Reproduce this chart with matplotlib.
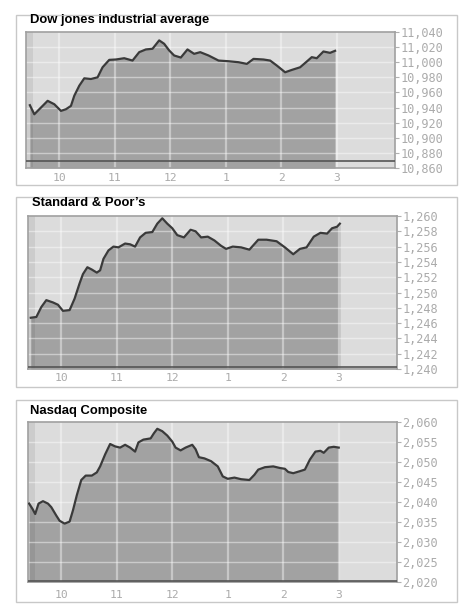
import matplotlib
matplotlib.use("Agg")
import matplotlib.pyplot as plt
from matplotlib.patches import Rectangle

# --- data (hour of the trading day, index level) ---
dow_hours = [9.47, 9.55, 9.64, 9.79, 9.91, 10.03, 10.12, 10.21, 10.27, 10.36, 10.45, 10.57,
             10.69, 10.78, 10.90, 11.02, 11.17, 11.32, 11.44, 11.56, 11.68, 11.80, 11.89,
             11.98, 12.07, 12.19, 12.31, 12.43, 12.54, 12.69, 12.87, 13.05, 13.23, 13.38,
             13.50, 13.68, 13.80, 13.92, 14.07, 14.19, 14.34, 14.46, 14.55, 14.64, 14.76,
             14.88, 14.97]
dow_vals = [10943.1, 10931.1, 10937.8, 10948.9, 10944.4, 10935.6, 10937.8, 10942.2, 10955.6,
            10968.9, 10978.7, 10977.8, 10980.0, 10993.3, 11003.1, 11003.6, 11005.3, 11002.2,
            11013.3, 11016.9, 11017.8, 11028.9, 11024.4, 11015.6, 11008.9, 11006.2, 11016.9,
            11011.1, 11013.3, 11008.9, 11002.2, 11001.3, 11000.0, 10997.8, 11004.4, 11003.6,
            11002.2, 10995.6, 10986.7, 10989.8, 10993.3, 11000.9, 11006.7, 11005.3, 11014.2,
            11012.4, 11015.1]

sp_hours = [9.45, 9.55, 9.64, 9.73, 9.85, 9.94, 10.03, 10.15, 10.24, 10.33, 10.39, 10.47,
            10.55, 10.64, 10.70, 10.76, 10.85, 10.94, 11.03, 11.15, 11.24, 11.33, 11.42,
            11.52, 11.64, 11.73, 11.82, 11.91, 12.00, 12.09, 12.21, 12.33, 12.42, 12.52,
            12.64, 12.76, 12.88, 12.97, 13.09, 13.24, 13.39, 13.55, 13.70, 13.88, 14.03,
            14.18, 14.30, 14.42, 14.55, 14.67, 14.79, 14.88, 14.97, 15.02]
sp_vals = [1246.7, 1246.8, 1248.1, 1249.0, 1248.7, 1248.4, 1247.6, 1247.7, 1249.2, 1251.2,
           1252.4, 1253.3, 1253.0, 1252.6, 1252.9, 1254.4, 1255.5, 1256.0, 1255.9, 1256.4,
           1256.3, 1256.0, 1257.2, 1257.8, 1257.9, 1259.0, 1259.7, 1259.0, 1258.4, 1257.5,
           1257.2, 1258.2, 1258.0, 1257.2, 1257.3, 1256.8, 1256.1, 1255.7, 1256.0, 1255.9,
           1255.6, 1256.9, 1256.9, 1256.7, 1255.9, 1255.0, 1255.7, 1255.9, 1257.3, 1257.8,
           1257.7, 1258.4, 1258.6, 1259.0]

nas_hours = [9.42, 9.48, 9.53, 9.59, 9.67, 9.76, 9.82, 9.91, 9.97, 10.06, 10.15, 10.21,
             10.28, 10.36, 10.44, 10.55, 10.64, 10.70, 10.79, 10.88, 10.97, 11.06, 11.15,
             11.24, 11.33, 11.39, 11.48, 11.61, 11.67, 11.73, 11.82, 11.91, 12.00, 12.06,
             12.15, 12.24, 12.36, 12.42, 12.48, 12.58, 12.70, 12.82, 12.91, 13.00, 13.12,
             13.24, 13.39, 13.48, 13.55, 13.67, 13.82, 13.94, 14.03, 14.09, 14.18, 14.30,
             14.39, 14.48, 14.58, 14.67, 14.73, 14.82, 14.91, 15.00]
nas_vals = [2039.6, 2038.3, 2037.0, 2039.6, 2040.2, 2039.6, 2038.7, 2036.6, 2035.3, 2034.6,
            2035.1, 2037.9, 2041.7, 2045.5, 2046.6, 2046.6, 2047.4, 2048.9, 2051.9, 2054.5,
            2053.9, 2053.6, 2054.3, 2053.6, 2052.6, 2054.9, 2055.6, 2055.9, 2057.2, 2058.3,
            2057.7, 2056.6, 2055.1, 2053.6, 2052.9, 2053.6, 2054.3, 2053.2, 2051.2, 2050.9,
            2050.2, 2048.9, 2046.4, 2045.8, 2046.1, 2045.7, 2045.5, 2046.8, 2048.1, 2048.7,
            2048.9, 2048.5, 2048.3, 2047.5, 2047.2, 2047.7, 2048.1, 2050.6, 2052.6, 2052.8,
            2052.3, 2053.6, 2053.8, 2053.6]

hour_ticks = [10, 11, 12, 13, 14, 15]
hour_labels = ["10", "11", "12", "1", "2", "3"]

dow_ticks = [10860, 10880, 10900, 10920, 10940, 10960, 10980, 11000, 11020, 11040]
sp_ticks = [1240, 1242, 1244, 1246, 1248, 1250, 1252, 1254, 1256, 1258, 1260]
nas_ticks = [2020, 2025, 2030, 2035, 2040, 2045, 2050, 2055, 2060]

W, H = 461, 614
fig = plt.figure(figsize=(W / 100, H / 100), dpi=100)
fig.patch.set_facecolor("white")

def px(x0, y0, x1, y1):
    return [x0 / W, 1 - y1 / H, (x1 - x0) / W, (y1 - y0) / H]

def panel(box, area, title, title_xy, label_y, hours, vals, ticks, base):
    fig.patches.append(Rectangle((box[0] / W, 1 - box[3] / H), (box[2] - box[0]) / W,
                                 (box[3] - box[1]) / H, transform=fig.transFigure,
                                 fill=False, ec="#c8c8c8", lw=1.0))
    fig.text(title_xy[0] / W, 1 - title_xy[1] / H, title, fontsize=9.4, fontweight="bold",
             family="Liberation Sans", va="center", ha="left")
    ax = fig.add_axes(px(*area))
    ax.set_facecolor("#dcdcdc")
    lo, hi = ticks[0], ticks[-1]
    ax.fill_between(hours, vals, lo, color="#a2a2a2", lw=0, zorder=1)
    ax.axvspan(9.4, 9.52, color="black", alpha=0.07, lw=0, zorder=1.5)
    for t in ticks[1:-1]:
        ax.axhline(t, color="white", alpha=0.45, lw=1.0, zorder=2)
    for h in hour_ticks:
        ax.axvline(h, color="white", alpha=0.4, lw=1.6, zorder=2)
    ax.axhline(base, color="#555555", lw=1.2, zorder=3)
    ax.plot(hours, vals, color="#3a3a3a", lw=1.6, zorder=4)
    ax.set_xlim(9.4, 16.05)
    ax.set_ylim(lo, hi)
    ax.yaxis.tick_right()
    ax.set_yticks(ticks)
    ax.set_yticklabels([f"{t:,}" for t in ticks], family="DejaVu Sans Mono",
                       fontsize=8.6, color="#ababab")
    ax.tick_params(axis="y", length=3, color="#b0b0b0", pad=1)
    ax.set_xticks([])
    for s in ax.spines.values():
        s.set_color("#a0a0a0")
        s.set_linewidth(1.2)
    for h, lab in zip(hour_ticks, hour_labels):
        xf = (area[0] + (h - 9.4) / (16.05 - 9.4) * (area[2] - area[0])) / W
        fig.text(xf, 1 - label_y / H, lab, family="DejaVu Sans Mono", fontsize=8.2,
                 color="#ababab", ha="center", va="center")
    return ax

panel((16, 15, 457, 185), (26, 32, 395, 168), "Dow jones industrial average", (30, 20), 178,
      dow_hours, dow_vals, dow_ticks, 10869)
panel((16, 197, 457, 387), (28, 216, 397, 369), "Standard & Poor\u2019s", (32, 203), 378,
      sp_hours, sp_vals, sp_ticks, 1240.3)
panel((16, 400, 457, 602), (28, 422, 397, 582), "Nasdaq Composite", (30, 411), 595,
      nas_hours, nas_vals, nas_ticks, 2020.2)

fig.savefig("out.png", dpi=100)
